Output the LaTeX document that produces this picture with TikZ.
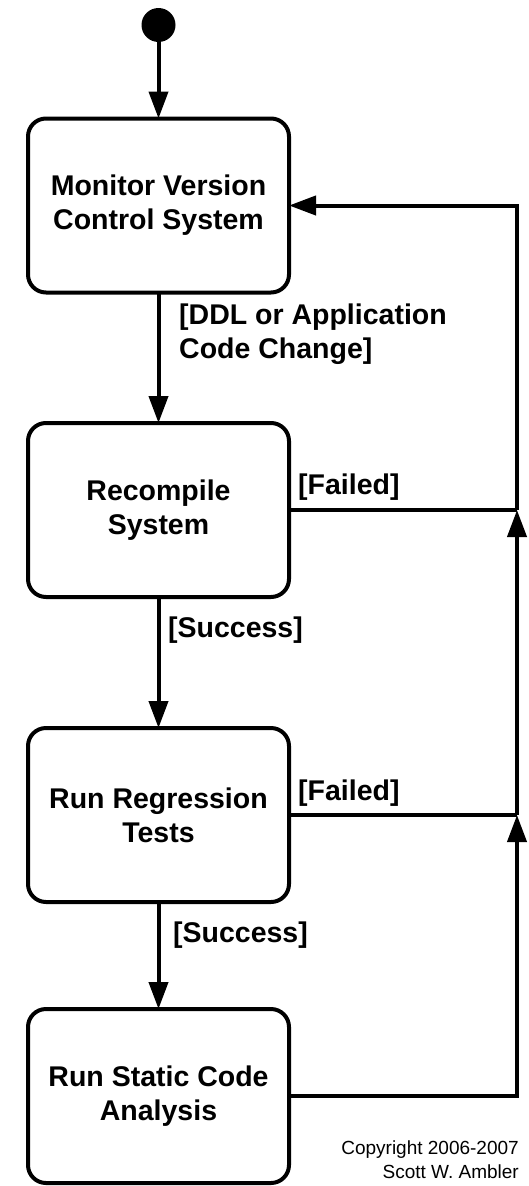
\documentclass[tikz,border=0pt]{standalone}
\usepackage{fontspec}
\setmainfont{Liberation Sans}
\usetikzlibrary{arrows.meta}
\begin{document}
\begin{tikzpicture}[x=1pt,y=-1pt,
  state/.style={draw,line width=4pt,rounded corners=18pt,minimum width=261pt,
    minimum height=174pt,align=center,outer sep=0pt,inner sep=0pt,
    font=\bfseries\fontsize{28.5}{34}\selectfont},
  guard/.style={inner sep=0pt,align=left,anchor=west,
    font=\bfseries\fontsize{28.5}{34}\selectfont},
  flow/.style={line width=4pt,line join=miter,-{Triangle[length=27pt,width=19pt]}},
  wire/.style={line width=4pt,line join=miter},
  note/.style={inner sep=0pt,align=right,anchor=east,
    font=\fontsize{19}{24}\selectfont}]
\useasboundingbox (0,0) rectangle (528,1186);

% initial state
\node[circle,fill=black,minimum size=34pt,inner sep=0pt,outer sep=0pt] (start) at (158.5,25) {};

% states
\node[state] (monitor) at (158.5,205.5) {Monitor Version\\Control System};
\node[state] (compile) at (158.5,510) {Recompile\\System};
\node[state] (tests) at (158.5,815) {Run Regression\\Tests};
\node[state] (static) at (158.5,1096) {Run Static Code\\Analysis};

% return path on the right
\coordinate (ret4) at (517,1096);
\coordinate (j2) at (517,815);
\coordinate (j1) at (517,510);
\coordinate (ret1) at (517,205.5);

% forward transitions
\draw[flow] (start) -- (monitor);
\draw[flow] (monitor) -- (compile);
\draw[flow] (compile) -- (tests);
\draw[flow] (tests) -- (static);

% failure / loop-back transitions
\draw[flow] (static.east) -- (ret4) -- (j2);
\draw[wire] (tests.east) -- (j2);
\draw[flow] (j2) -- (j1);
\draw[wire] (compile.east) -- (j1);
\draw[flow] (j1) -- (ret1) -- (monitor.east);

% guards
\node[guard] (gchange) at (179,334.5) {[DDL or Application\\Code Change]};
\node[guard] (gsucc1) at (168,630) {[Success]};
\node[guard] (gsucc2) at (173,935) {[Success]};
\node[guard] (gfail1) at (298,487) {[Failed]};
\node[guard] (gfail2) at (298,793) {[Failed]};

% copyright
\node[note] (copy) at (519,1160) {Copyright 2006-2007\\Scott W. Ambler};
\end{tikzpicture}
\end{document}
